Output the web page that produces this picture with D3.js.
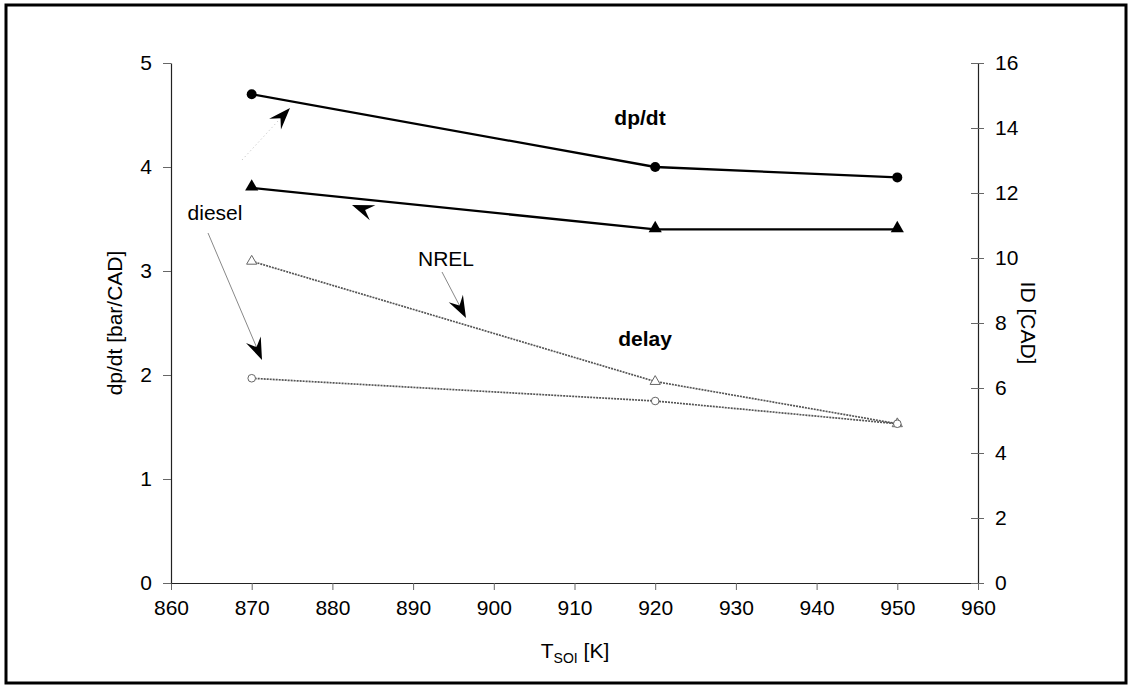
<!DOCTYPE html>
<html>
<head>
<meta charset="utf-8">
<script src="https://d3js.org/d3.v7.min.js"></script>
<style>
  html, body { margin: 0; padding: 0; background: #fff; }
  svg text { font-family: "Liberation Sans", Arial, sans-serif; fill: #000; }
</style>
</head>
<body>
<svg id="chart" width="1130" height="686"></svg>
<script>
// Start-of-injection temperature [K]
const temps = [870, 920, 950];
// Peak pressure rise rate [bar/CAD], left axis
const dpdtDiesel = [4.7, 4.0, 3.9];
const dpdtNrel = [3.8, 3.4, 3.4];
// Ignition delay [CAD], right axis
const delayNrel = [9.9, 6.2, 4.9];
const delayDiesel = [6.3, 5.6, 4.9];

const xTicks = [860, 870, 880, 890, 900, 910, 920, 930, 940, 950, 960];
const yLeftTicks = [0, 1, 2, 3, 4, 5];
const yRightTicks = [0, 2, 4, 6, 8, 10, 12, 14, 16];

const FS = 21;
const svg = d3.select("#chart");
const m = { left: 171, right: 978, top: 63, bottom: 583 };

const x = d3.scaleLinear().domain([860, 960]).range([m.left, m.right]);
const yL = d3.scaleLinear().domain([0, 5]).range([m.bottom, m.top]);
const yR = d3.scaleLinear().domain([0, 16]).range([m.bottom, m.top]);

// outer frame
svg.append("rect")
  .attr("x", 6).attr("y", 5).attr("width", 1120).attr("height", 678)
  .attr("fill", "none").attr("stroke", "#000").attr("stroke-width", 3);

const axisStyle = g => {
  g.selectAll(".domain").attr("stroke", "#222").attr("stroke-width", 1.2);
  g.selectAll(".tick line").attr("stroke", "#666").attr("stroke-width", 1);
  g.selectAll(".tick text").attr("font-size", FS).attr("fill", "#000");
};

svg.append("g")
  .attr("transform", `translate(0,${m.bottom})`)
  .call(d3.axisBottom(x).tickValues(xTicks).tickFormat(d3.format("d")).tickSize(7).tickSizeOuter(0).tickPadding(9))
  .call(axisStyle)
  .call(g => g.selectAll(".tick text").attr("dy", "0.78em"));

svg.append("g")
  .attr("transform", `translate(${m.left},0)`)
  .call(d3.axisLeft(yL).tickValues(yLeftTicks).tickFormat(d3.format("d")).tickSize(8).tickSizeOuter(0).tickPadding(11))
  .call(axisStyle);

const rAxis = svg.append("g")
  .attr("transform", `translate(${m.right},0)`)
  .call(d3.axisRight(yR).tickValues(yRightTicks).tickFormat(d3.format("d")).tickSize(6).tickSizeOuter(0).tickPadding(11))
  .call(axisStyle);
rAxis.selectAll(".tick line").attr("x1", -7);

// axis titles
svg.append("text")
  .attr("transform", `translate(122,${(m.top + m.bottom) / 2}) rotate(-90)`)
  .attr("text-anchor", "middle").attr("font-size", FS)
  .text("dp/dt [bar/CAD]");

svg.append("text")
  .attr("transform", `translate(1021,${(m.top + m.bottom) / 2}) rotate(90)`)
  .attr("text-anchor", "middle").attr("font-size", FS)
  .text("ID [CAD]");

const xt = svg.append("text")
  .attr("x", 575).attr("y", 658)
  .attr("text-anchor", "middle").attr("font-size", FS);
xt.append("tspan").text("T");
xt.append("tspan").attr("font-size", 14).attr("dy", 5).text("SOI");
xt.append("tspan").attr("dy", -5).text(" [K]");

// series
const lineL = d3.line().x((d, i) => x(temps[i])).y(d => yL(d));
const lineR = d3.line().x((d, i) => x(temps[i])).y(d => yR(d));

svg.append("path").datum(delayNrel).attr("d", lineR)
  .attr("fill", "none").attr("stroke", "#555").attr("stroke-width", 1.7)
  .attr("stroke-dasharray", "2,1");
svg.append("path").datum(delayDiesel).attr("d", lineR)
  .attr("fill", "none").attr("stroke", "#555").attr("stroke-width", 1.7)
  .attr("stroke-dasharray", "2,1");
svg.append("path").datum(dpdtDiesel).attr("d", lineL)
  .attr("fill", "none").attr("stroke", "#000").attr("stroke-width", 2.3);
svg.append("path").datum(dpdtNrel).attr("d", lineL)
  .attr("fill", "none").attr("stroke", "#000").attr("stroke-width", 2.3);

svg.selectAll(".m-dd").data(dpdtDiesel).join("circle")
  .attr("cx", (d, i) => x(temps[i])).attr("cy", d => yL(d)).attr("r", 5)
  .attr("fill", "#000");
svg.selectAll(".m-dn").data(dpdtNrel).join("path")
  .attr("d", d3.symbol().type(d3.symbolTriangle).size(75))
  .attr("transform", (d, i) => `translate(${x(temps[i])},${yL(d) - 1})`)
  .attr("fill", "#000");
svg.selectAll(".m-ln").data(delayNrel).join("path")
  .attr("d", d3.symbol().type(d3.symbolTriangle).size(45))
  .attr("transform", (d, i) => `translate(${x(temps[i])},${yR(d)})`)
  .attr("fill", "#fff").attr("stroke", "#666").attr("stroke-width", 1);
svg.selectAll(".m-ld").data(delayDiesel).join("circle")
  .attr("cx", (d, i) => x(temps[i])).attr("cy", d => yR(d)).attr("r", 3.8)
  .attr("fill", "#fff").attr("stroke", "#666").attr("stroke-width", 1);

// annotations
svg.append("text").attr("x", 640).attr("y", 125).attr("text-anchor", "middle")
  .attr("font-size", FS).attr("font-weight", "bold").text("dp/dt");
svg.append("text").attr("x", 645).attr("y", 346).attr("text-anchor", "middle")
  .attr("font-size", FS).attr("font-weight", "bold").text("delay");
svg.append("text").attr("x", 215).attr("y", 220).attr("text-anchor", "middle")
  .attr("font-size", FS).text("diesel");
svg.append("text").attr("x", 446).attr("y", 266).attr("text-anchor", "middle")
  .attr("font-size", FS).text("NREL");

// pointer arrows: thin leader plus filled stealth head
function arrow(x1, y1, x2, y2, stroke, dash) {
  const ang = Math.atan2(y2 - y1, x2 - x1);
  const L = 22, Wd = 8, inset = 14;
  const bx = x2 - L * Math.cos(ang), by = y2 - L * Math.sin(ang);
  const nx = -Math.sin(ang), ny = Math.cos(ang);
  const ix = x2 - inset * Math.cos(ang), iy = y2 - inset * Math.sin(ang);
  if (stroke) {
    svg.append("line").attr("x1", x1).attr("y1", y1).attr("x2", ix).attr("y2", iy)
      .attr("stroke", stroke).attr("stroke-width", 1)
      .attr("stroke-dasharray", dash || null);
  }
  svg.append("path")
    .attr("d", `M${x2},${y2} L${bx + nx * Wd},${by + ny * Wd} L${ix},${iy} L${bx - nx * Wd},${by - ny * Wd} Z`)
    .attr("fill", "#000");
}
arrow(242, 160, 290, 108, "#bbb", "1,3");
arrow(376, 214, 352, 205, null);
arrow(208, 233, 262, 360, "#888");
arrow(442, 272, 466, 318, "#888");
</script>
</body>
</html>
